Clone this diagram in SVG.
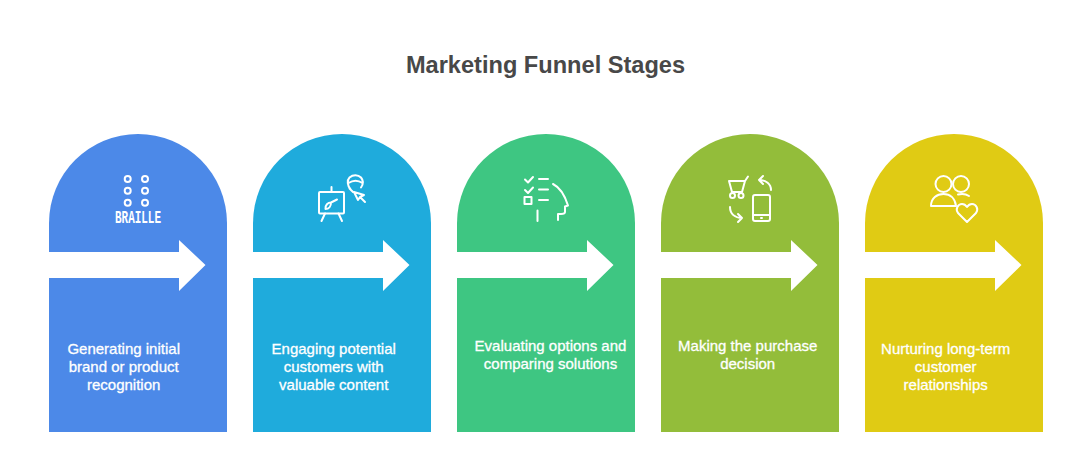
<svg xmlns="http://www.w3.org/2000/svg" width="1092" height="466" viewBox="0 0 1092 466">
<style>
.title{font:700 23.6px "Liberation Sans",Arial,sans-serif;fill:#484848;text-anchor:middle}
.label{font:400 15px "Liberation Sans",Arial,sans-serif;fill:#fff;stroke:#fff;stroke-width:.3;text-anchor:middle}
.ic{fill:none;stroke:#fff;stroke-width:2;stroke-linecap:round;stroke-linejoin:round}
.arrow{fill:#fff}
.braille{font:700 17.5px "Liberation Mono",monospace;fill:#fff}
</style>
<defs>
<path id="arch" d="M0 432V223A89 89 0 0 1 178 223V432Z"/>
<path id="arr" d="M0 252H130V240L156.500 265L130 291V278H0Z"/>
</defs>
<rect width="1092" height="466" fill="#fff"/>
<text class="title" x="545.500" y="73">Marketing Funnel Stages</text>
<g id="node-1">
<use href="#arch" x="49" fill="#4c89e8"/>
<g class="ic">
<circle cx="127.700" cy="179" r="3"/><circle cx="145" cy="179" r="3"/>
<circle cx="127.700" cy="190.700" r="3"/><circle cx="145" cy="190.700" r="3"/>
<circle cx="127.700" cy="202.700" r="3"/><circle cx="145" cy="202.700" r="3"/>
</g>
<text class="braille" x="115" y="222.500" textLength="46" lengthAdjust="spacingAndGlyphs">BRAILLE</text>
<text class="label" x="123.700" y="354">Generating initial</text>
<text class="label" x="123.700" y="372">brand or product</text>
<text class="label" x="123.700" y="390">recognition</text>
</g>
<g id="node-2">
<use href="#arch" x="253" fill="#1fabdc"/>
<g class="ic">
<rect x="319" y="192" width="25" height="21.500" rx="1"/>
<path d="M331.500 192V187M325 213.500L321.500 221M338.500 213.500L342 221"/>
<path d="M325.500 209C325 205 328 202.500 331 202.500C331 206 329 209 325.500 209ZM331 202.500L337 199.500"/>
<path d="M351 190C347 186 347 180 349.500 177.500C353 174.500 358 174.500 361 177.500C363.500 180.500 363.500 184 361 187.500M348.500 183C353 180 358 180 362.500 183M349.500 188.500L353 192"/>
<path d="M354 192L364 195L360 197L358 200ZM360 197L365 202"/>
</g>
<text class="label" x="333.700" y="354">Engaging potential</text>
<text class="label" x="333.700" y="372">customers with</text>
<text class="label" x="333.700" y="390">valuable content</text>
</g>
<g id="node-3">
<use href="#arch" x="457" fill="#3ec682"/>
<g class="ic">
<path d="M525 179.500L528 182.500L533 177M525 190L528 193L533 187.500"/>
<rect x="524.500" y="197" width="7" height="7"/>
<path d="M539 179H548M539 189.500H548M539 200H548M537.500 210.500V221"/>
<path d="M553 184C561 188 565 196 568 205.500L565 206.500V212C565 214 563 214 561 214H558V220"/>
</g>
<text class="label" x="550.500" y="351">Evaluating options and</text>
<text class="label" x="550.500" y="369">comparing solutions</text>
</g>
<g id="node-4">
<use href="#arch" x="661" fill="#93bd3a"/>
<g class="ic">
<path d="M729 181H745L748 176.500M745 181L742 192H732L729 181"/>
<circle cx="732.500" cy="195.500" r="2.500"/><circle cx="741" cy="195.500" r="2.500"/>
<path d="M771 190C771 184 766 180 759 180M763 176L759 180L763 184"/>
<path d="M730 207C730 214 735 218 742 218M738 214L742 218L738 222"/>
<rect x="753" y="195" width="17" height="26" rx="2"/>
<path d="M754 215H769M761 218H762"/>
</g>
<text class="label" x="747.700" y="351">Making the purchase</text>
<text class="label" x="747.700" y="369">decision</text>
</g>
<g id="node-5">
<use href="#arch" x="865" fill="#e0cb14"/>
<g class="ic">
<circle cx="943.500" cy="184" r="8"/>
<circle cx="961" cy="184" r="8"/>
<path d="M931 206C931 198 937 194 943.500 194C950 194 955 198 956 206Z"/>
<path d="M958 194.500C962 193.500 966 194 969 196"/>
<path d="M967 222L958 213C955 209 958 204 962 204C964.500 204 966 205.500 967 207C968 205.500 969.500 204 972 204C976 204 979 209 976 213Z"/>
</g>
<text class="label" x="945.700" y="354">Nurturing long-term</text>
<text class="label" x="945.700" y="372">customer</text>
<text class="label" x="945.700" y="390">relationships</text>
</g>
<g id="connectors">
<use href="#arr" x="49" class="arrow"/>
<use href="#arr" x="253" class="arrow"/>
<use href="#arr" x="457" class="arrow"/>
<use href="#arr" x="661" class="arrow"/>
<use href="#arr" x="865" class="arrow"/>
</g>
</svg>
